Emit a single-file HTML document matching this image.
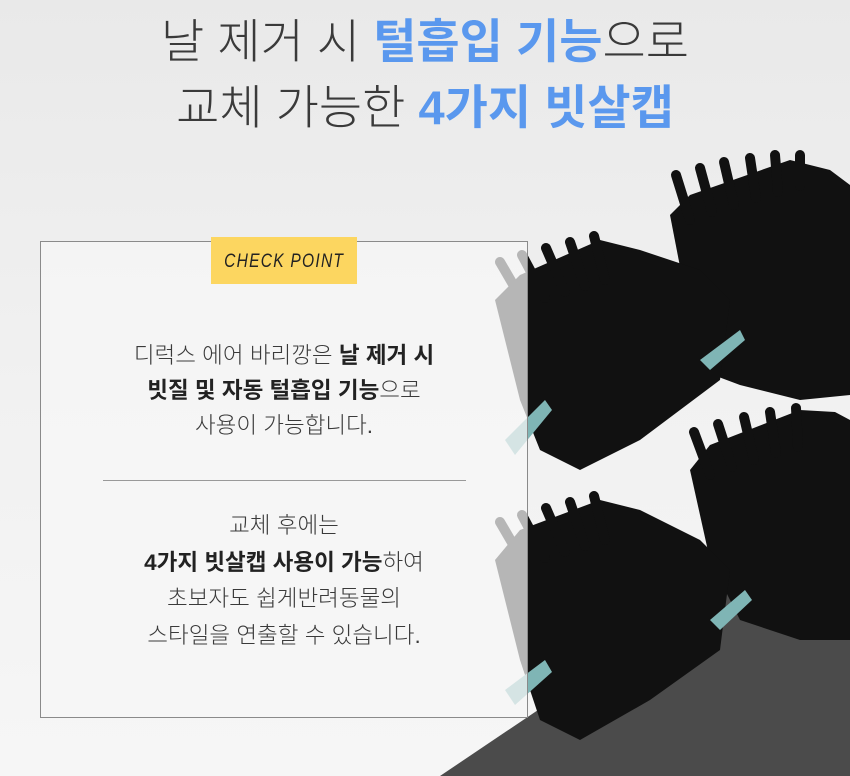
<!DOCTYPE html>
<html><head><meta charset="utf-8"><style>
body{margin:0;width:850px;height:776px;overflow:hidden;position:relative;background:linear-gradient(180deg,#e9e9e9 0%,#f1f1f1 50%,#f6f6f6 100%);font-family:"Liberation Sans","Noto Sans CJK KR",sans-serif;}
.t{position:absolute;left:0;width:850px;text-align:center;font-size:47px;color:#3a3a3a;line-height:54px;font-weight:300;white-space:nowrap;}
.t b{color:#5a98ee;font-weight:700;}
svg{position:absolute;left:0;top:0;}
.box{position:absolute;left:40px;top:241px;width:486px;height:475px;border:1px solid #8a8a8a;background:rgba(247,247,247,0.72);}
.cp{position:absolute;left:211px;top:237px;width:146px;height:47px;background:#fcd660;text-align:center;line-height:49px;white-space:nowrap;}
.cp span{display:inline-block;white-space:nowrap;font-family:"Liberation Sans Narrow","Liberation Sans",sans-serif;font-style:italic;font-size:19px;letter-spacing:1.5px;color:#222;transform:scaleX(.82);}
.p{position:absolute;left:40px;width:488px;text-align:center;font-size:22.5px;color:#3a3a3a;line-height:35px;font-weight:300;white-space:nowrap;}
.p b{color:#222;font-weight:700;}
.hr{position:absolute;left:103px;top:480px;width:363px;height:1px;background:#999;}
</style></head><body>
<svg width="850" height="776">
<polygon points="440,776 850,500 850,776" fill="#4b4b4b"/>
<g fill="#111">
<polygon points="670,215 690,195 790,160 830,170 850,185 850,395 800,400 740,385 700,370"/>
<g stroke="#111" stroke-width="10" stroke-linecap="round"><line x1="690" y1="220" x2="676" y2="175"/><line x1="712" y1="212" x2="700" y2="168"/><line x1="734" y1="205" x2="724" y2="162"/><line x1="756" y1="198" x2="750" y2="158"/><line x1="778" y1="192" x2="775" y2="155"/><line x1="800" y1="186" x2="800" y2="155"/></g>
<polygon points="495,300 520,275 600,240 640,250 700,270 730,300 720,380 640,440 580,470 540,450 520,400"/>
<g stroke="#111" stroke-width="10" stroke-linecap="round"><line x1="525" y1="305" x2="500" y2="262"/><line x1="545" y1="298" x2="522" y2="255"/><line x1="565" y1="292" x2="546" y2="248"/><line x1="585" y1="286" x2="570" y2="242"/><line x1="605" y1="280" x2="594" y2="236"/></g>
<polygon points="690,470 710,445 800,410 835,412 850,420 850,640 800,640 740,620 710,560"/>
<g stroke="#111" stroke-width="10" stroke-linecap="round"><line x1="710" y1="475" x2="694" y2="432"/><line x1="732" y1="467" x2="718" y2="424"/><line x1="754" y1="460" x2="744" y2="417"/><line x1="776" y1="453" x2="770" y2="412"/><line x1="798" y1="447" x2="796" y2="408"/></g>
<polygon points="495,560 520,530 600,500 640,510 700,540 730,570 720,650 650,700 580,740 540,720 520,660"/>
<g stroke="#111" stroke-width="10" stroke-linecap="round"><line x1="525" y1="565" x2="500" y2="522"/><line x1="545" y1="558" x2="522" y2="515"/><line x1="565" y1="552" x2="546" y2="508"/><line x1="585" y1="546" x2="570" y2="502"/><line x1="605" y1="540" x2="594" y2="496"/></g>
</g>
<g fill="#7fb5b5"><polygon points="505,440 545,400 552,410 515,455"/><polygon points="700,360 740,330 745,340 710,370"/><polygon points="505,690 545,660 552,672 515,705"/><polygon points="710,620 745,590 752,600 720,630"/></g>
</svg>
<div class="t" style="top:15px">날 제거 시 <b>털흡입 기능</b>으로</div>
<div class="t" style="top:81px">교체 가능한 <b>4가지 빗살캡</b></div>
<div class="box"></div>
<div class="cp"><span>CHECK POINT</span></div>
<div class="p" style="top:338px">디럭스 에어 바리깡은 <b>날 제거 시</b><br><b>빗질 및 자동 털흡입 기능</b>으로<br>사용이 가능합니다.</div>
<div class="hr"></div>
<div class="p" style="top:508px;line-height:36.5px">교체 후에는<br><b>4가지 빗살캡 사용이 가능</b>하여<br>초보자도 쉽게반려동물의<br>스타일을 연출할 수 있습니다.</div>
</body></html>
